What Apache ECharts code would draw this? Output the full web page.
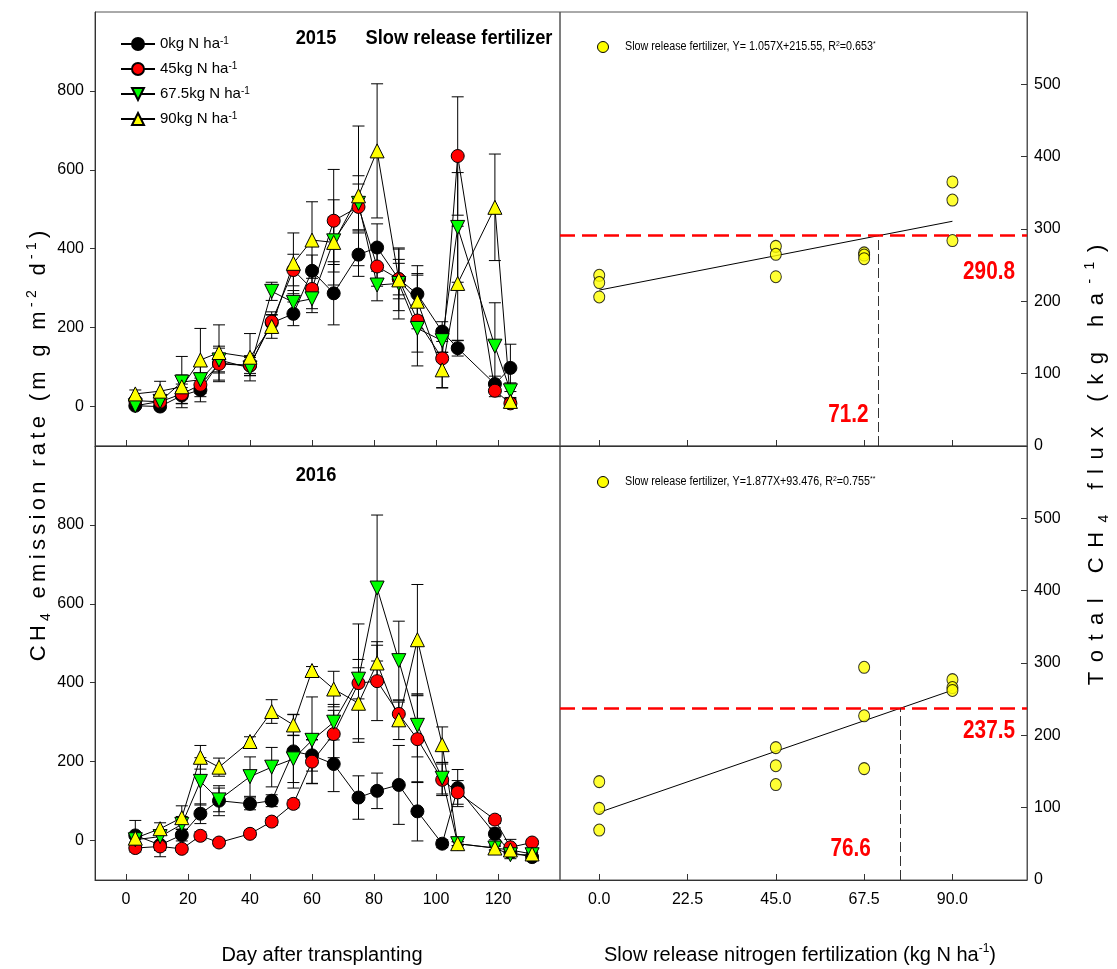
<!DOCTYPE html>
<html>
<head>
<meta charset="utf-8">
<script src="https://cdn.jsdelivr.net/npm/echarts@6/dist/echarts.min.js"></script>
<style>
  html, body { margin: 0; padding: 0; background: #fff; }
  #chart { width: 1117px; height: 969px; }
</style>
</head>
<body>
<div id="chart"></div>
<script>
// ---- Daily CH4 emission rate (mg m-2 d-1), mean and error per N rate ----
const days2015 = [3, 11, 18, 24, 30, 40, 47, 54, 60, 67, 75, 81, 88, 94, 102, 107, 119, 124];
const n0_2015   = [2, 0, 28, 42, 110, 104, 212, 235, 344, 287, 385, 403, 323, 285, 190, 148, 57, 98];
const n45_2015  = [15, 12, 32, 55, 108, 104, 215, 346, 298, 471, 506, 355, 323, 218, 122, 635, 40, 8];
const n675_2015 = [2, 13, 62, 68, 118, 98, 292, 264, 273, 420, 515, 308, 312, 198, 167, 454, 153, 40];
const n90_2015  = [32, 39, 50, 118, 137, 125, 203, 363, 422, 416, 534, 648, 321, 267, 93, 312, 505, 13];
const e0_2015   = [5, 8, 20, 30, 25, 20, 20, 30, 40, 80, 55, 60, 50, 72, 25, 20, 20, 60];
const e45_2015  = [8, 10, 25, 30, 45, 25, 25, 40, 50, 130, 58, 50, 40, 115, 75, 150, 15, 10];
const e675_2015 = [5, 10, 65, 35, 30, 20, 23, 30, 35, 60, 70, 40, 90, 60, 30, 139, 110, 20];
const e90_2015  = [10, 25, 30, 80, 70, 60, 30, 77, 97, 108, 177, 170, 78, 70, 45, 145, 135, 10];

const days2016 = [3, 11, 18, 24, 30, 40, 47, 54, 60, 67, 75, 81, 88, 94, 102, 107, 119, 124, 131];
const n0_2016   = [13, -11, 14, 68, 101, 93, 101, 226, 216, 194, 109, 126, 141, 74, -8, 133, 17, -30, -42];
const n45_2016  = [-19, -15, -21, 12, -5, 17, 48, 93, 200, 270, 399, 404, 321, 257, 154, 122, 53, -17, -5];
const n675_2016 = [2, 10, 41, 150, 103, 162, 186, 207, 254, 300, 409, 640, 456, 292, 158, -8, -19, -36, -36];
const n90_2016  = [6, 30, 58, 211, 186, 251, 327, 293, 431, 384, 348, 450, 306, 509, 243, -8, -19, -24, -34];
const e0_2016   = [38, 30, 15, 25, 38, 15, 15, 93, 40, 70, 55, 45, 100, 75, 10, 47, 15, 10, 5];
const e45_2016  = [10, 10, 8, 10, 8, 8, 10, 10, 55, 60, 150, 100, 30, 110, 40, 30, 10, 20, 5];
const e675_2016 = [10, 15, 20, 60, 30, 50, 50, 60, 110, 45, 50, 185, 100, 80, 40, 5, 5, 10, 5];
const e90_2016  = [10, 15, 30, 30, 23, 12, 30, 27, 10, 45, 90, 45, 50, 140, 45, 5, 5, 10, 5];

// ---- Total CH4 flux (kg ha-1) per plot vs. slow release N rate ----
const nRate      = [0, 0, 0, 45, 45, 45, 67.5, 67.5, 67.5, 90, 90, 90];
const flux2015   = [236, 226, 206, 276, 265, 234, 267, 264, 259, 365, 340, 284];
const flux2016   = [136, 99, 69, 183, 158, 132, 294, 227, 154, 277, 266, 262];

// Linear fits and threshold points
const fit2015 = [1.057, 215.55];   // slope, intercept
const fit2016 = [1.877, 93.476];
const r2_2015 = ['0.653', '*'];
const r2_2016 = ['0.755', '**'];
const threshold2015 = [71.2, 290.8]; // N rate, flux
const threshold2016 = [76.6, 237.5];

// Tick labels
const dayTicks = [0, 20, 40, 60, 80, 100, 120];
const rateTicks = [0, 200, 400, 600, 800];
const nTicks = [0, 22.5, 45, 67.5, 90];
const fluxTicks = [0, 100, 200, 300, 400, 500];
const legendRates = ['0', '45', '67.5', '90'];

const FONT = "'Liberation Sans', Arial, sans-serif";
const AXIS_COLOR = '#333';
const FRAME_COLOR = '#555';

const chart = echarts.init(document.getElementById('chart'), null, { renderer: 'canvas' });

const markerDefs = [
  { name: legendRates[0], symbol: 'circle', rotate: 0, color: '#000000' },
  { name: legendRates[1], symbol: 'circle', rotate: 0, color: '#ff0000' },
  { name: legendRates[2], symbol: 'triangle', rotate: 180, color: '#00ff00' },
  { name: legendRates[3], symbol: 'triangle', rotate: 0, color: '#ffff00' }
];

function errorBars(days, mean, err, axis) {
  return {
    type: 'custom',
    xAxisIndex: axis, yAxisIndex: axis,
    silent: true, z: 1,
    data: days.map((d, i) => [d, mean[i] - err[i], mean[i] + err[i]]),
    encode: { x: 0, y: [1, 2] },
    renderItem(params, api) {
      const x = api.value(0);
      const lo = api.coord([x, api.value(1)]);
      const hi = api.coord([x, api.value(2)]);
      const w = 6;
      const st = { stroke: '#000', lineWidth: 1 };
      return {
        type: 'group',
        children: [
          { type: 'line', shape: { x1: lo[0], y1: lo[1], x2: hi[0], y2: hi[1] }, style: st },
          { type: 'line', shape: { x1: lo[0] - w, y1: lo[1], x2: lo[0] + w, y2: lo[1] }, style: st },
          { type: 'line', shape: { x1: hi[0] - w, y1: hi[1], x2: hi[0] + w, y2: hi[1] }, style: st }
        ]
      };
    }
  };
}

function rateLine(def, days, mean, axis) {
  return {
    type: 'line', name: def.name,
    xAxisIndex: axis, yAxisIndex: axis, z: 3,
    data: days.map((d, i) => [d, mean[i]]),
    symbol: def.symbol, symbolRotate: def.rotate, symbolSize: def.symbol === 'circle' ? 13 : 14,
    showAllSymbol: true,
    lineStyle: { color: '#000', width: 1 },
    itemStyle: { color: def.color, borderColor: '#000', borderWidth: 1 },
    emphasis: { disabled: true },
    animation: false
  };
}

// Bold condensed red text used for the threshold values
function redText(str, x, y, align) {
  return {
    type: 'text', x: x, y: y, scaleX: 0.83,
    style: { text: str, fill: '#ff0000', fontFamily: FONT, fontWeight: 'bold', fontSize: 25,
             align: align, verticalAlign: 'middle' }
  };
}

function fluxPanel(axis, flux, fit, thr, nLabelGap, fLabelDy) {
  const [m, b] = fit;
  const [xN, yF] = thr;
  return [
    {
      type: 'line', name: 'fit' + axis, xAxisIndex: axis, yAxisIndex: axis, z: 2,
      data: [[0, b], [90, b + m * 90]],
      symbol: 'none', lineStyle: { color: '#000', width: 1 },
      markLine: {
        silent: true, symbol: ['none', 'none'], label: { show: false },
        data: [
          { yAxis: yF, lineStyle: { color: '#ff0000', width: 2.5, type: [15, 7] } },
          [
            { coord: [xN, 0], lineStyle: { color: '#333', width: 1, type: [10, 4] } },
            { coord: [xN, yF] }
          ]
        ]
      },
      animation: false
    },
    {
      type: 'scatter', name: 'Slow release fertilizer', xAxisIndex: axis, yAxisIndex: axis, z: 4,
      data: nRate.map((n, i) => [n, flux[i]]),
      symbol: 'circle', symbolSize: [11, 12],
      itemStyle: { color: '#ffff00', borderColor: '#000', borderWidth: 1 },
      emphasis: { disabled: true },
      animation: false
    },
    {
      // value labels for the threshold N rate (on the x axis) and flux (at the right edge)
      type: 'custom', xAxisIndex: axis, yAxisIndex: axis, z: 5, silent: true,
      data: [[xN, 0, 0], [109, yF, 1]],
      renderItem(params, api) {
        const p = api.coord([api.value(0), api.value(1)]);
        if (api.value(2) === 0) {
          return redText(xN.toFixed(1), p[0] - nLabelGap, p[1] - 31, 'right');
        }
        return redText(yF.toFixed(1), p[0] - 12, p[1] + fLabelDy, 'right');
      },
      animation: false
    }
  ];
}

const leftX = (gi, showLabels) => ({
  gridIndex: gi, type: 'value', min: -10, max: 140,
  axisLine: { show: true, onZero: false, lineStyle: { color: AXIS_COLOR, width: 1 } },
  axisTick: { show: true, inside: true, length: 6, customValues: dayTicks, lineStyle: { color: AXIS_COLOR } },
  axisLabel: { show: showLabels, customValues: dayTicks, fontSize: 16, fontFamily: FONT, color: '#000', margin: 12 },
  splitLine: { show: false }
});
const rightX = (gi, showLabels) => ({
  gridIndex: gi, type: 'value', min: -10, max: 109,
  axisLine: { show: true, onZero: false, lineStyle: { color: AXIS_COLOR, width: 1 } },
  axisTick: { show: true, inside: true, length: 6, customValues: nTicks, lineStyle: { color: AXIS_COLOR } },
  axisLabel: { show: showLabels, customValues: nTicks, fontSize: 16, fontFamily: FONT, color: '#000', margin: 12,
               formatter: v => Number(v).toFixed(1) },
  splitLine: { show: false }
});
const leftY = gi => ({
  gridIndex: gi, type: 'value', min: -100, max: 1000, position: 'left',
  axisLine: { show: true, onZero: false, lineStyle: { color: AXIS_COLOR, width: 1 } },
  axisTick: { show: true, inside: false, length: 5, customValues: rateTicks, lineStyle: { color: AXIS_COLOR } },
  axisLabel: { show: true, customValues: rateTicks, fontSize: 16, fontFamily: FONT, color: '#000', margin: 11 },
  splitLine: { show: false }
});
const rightY = gi => ({
  gridIndex: gi, type: 'value', min: 0, max: 600, position: 'right',
  axisLine: { show: true, onZero: false, lineStyle: { color: FRAME_COLOR, width: 1 } },
  axisTick: { show: true, inside: true, length: 6, customValues: fluxTicks, lineStyle: { color: AXIS_COLOR } },
  axisLabel: { show: true, customValues: fluxTicks, fontSize: 16, fontFamily: FONT, color: '#000', margin: 7 },
  splitLine: { show: false }
});

const gridBase = { show: true, borderColor: FRAME_COLOR, borderWidth: 1, containLabel: false, outerBoundsMode: 'none' };

// Rich text with extra letter spacing: parts = [[text, styleName], ...]
function spaced(parts) {
  let out = '';
  parts.forEach(([txt, st]) => {
    for (const ch of txt) out += '{' + st + '|' + ch + '}';
  });
  return out;
}
function spacedRich(size, gap) {
  const pad = [0, gap / 2, 0, gap / 2];
  const small = Math.round(size * 0.62);
  return {
    n:   { fontSize: size, fontFamily: FONT, fill: '#000', color: '#000', lineHeight: 28, padding: pad },
    sub: { fontSize: small, fontFamily: FONT, fill: '#000', color: '#000', lineHeight: 28, verticalAlign: 'bottom', padding: pad },
    sup: { fontSize: small, fontFamily: FONT, fill: '#000', color: '#000', lineHeight: 28, verticalAlign: 'top', padding: pad }
  };
}

function fitLegend(y, fit, r2, spaceAfterEq) {
  const eq = 'Slow release fertilizer, Y=' + (spaceAfterEq ? ' ' : '') + fit[0].toFixed(3) + 'X+' + fit[1] + ', R{s|2}=' + r2[0] + '{s|' + r2[1] + '}';
  return [
    { type: 'circle', x: 603, y: y, shape: { cx: 0, cy: 0, r: 5.5 }, style: { fill: '#ffff00', stroke: '#000', lineWidth: 1 } },
    { type: 'text', x: 625, y: y, scaleX: 0.86, style: {
        text: eq, fill: '#000', fontFamily: FONT, fontSize: 12.5, align: 'left', verticalAlign: 'middle',
        rich: { s: { fontSize: 8, fontFamily: FONT, fill: '#000', verticalAlign: 'top', lineHeight: 15 } } } }
  ];
}

const supRich = {
  sup: { fontSize: 10, fontFamily: FONT, color: '#000', verticalAlign: 'top', lineHeight: 16 }
};

const boldTitle = (str, x, y) => ({
  type: 'text', x: x, y: y, scaleX: 0.87,
  style: { text: str, fontFamily: FONT, fontWeight: 'bold', fontSize: 21, fill: '#000', align: 'center', verticalAlign: 'middle' }
});

const option = {
  backgroundColor: '#fff',
  animation: false,
  grid: [
    Object.assign({ left: 95, top: 12, width: 465, height: 434 }, gridBase),
    Object.assign({ left: 95, top: 446, width: 465, height: 434 }, gridBase),
    Object.assign({ left: 560, top: 12, width: 467, height: 434 }, gridBase),
    Object.assign({ left: 560, top: 446, width: 467, height: 434 }, gridBase)
  ],
  xAxis: [leftX(0, false), leftX(1, true), rightX(2, false), rightX(3, true)],
  yAxis: [leftY(0), leftY(1), rightY(2), rightY(3)],
  legend: [
    {
      orient: 'vertical', left: 120, top: 36, padding: 0,
      itemWidth: 34, itemHeight: 15, itemGap: 9,
      data: legendRates,
      formatter: n => n + 'kg N ha{sup|-1}',
      textStyle: { fontSize: 15, fontFamily: FONT, color: '#000', lineHeight: 16, rich: supRich },
      selectedMode: false
    }
  ],
  graphic: [
    boldTitle('2015', 316, 38),
    boldTitle('Slow release fertilizer', 459, 38),
    boldTitle('2016', 316, 475),
    ...fitLegend(47, fit2015, r2_2015, true),
    ...fitLegend(482, fit2016, r2_2016, false),
    { type: 'text', x: 322, y: 955, style: { text: 'Day after transplanting', fontFamily: FONT, fontSize: 20, fill: '#000', align: 'center', verticalAlign: 'middle' } },
    { type: 'text', x: 800, y: 955, style: {
        text: 'Slow release nitrogen fertilization (kg N ha{sup|-1})', fontFamily: FONT, fontSize: 20, fill: '#000',
        align: 'center', verticalAlign: 'middle',
        rich: { sup: { fontSize: 12, fontFamily: FONT, fill: '#000', verticalAlign: 'top', lineHeight: 24 } } } },
    { type: 'text', x: 39, y: 446, rotation: Math.PI / 2, style: {
        text: spaced([['CH', 'n'], ['4', 'sub'], [' emission rate (m g m', 'n'], ['-2', 'sup'], [' d', 'n'], ['-1', 'sup'], [')', 'n']]),
        fill: '#000', align: 'center', verticalAlign: 'middle', rich: spacedRich(22, 4.3) } },
    { type: 'text', x: 1097, y: 465, rotation: Math.PI / 2, style: {
        text: spaced([['Total CH', 'n'], ['4', 'sub'], [' flux (kg ha', 'n'], ['-1', 'sup'], [')', 'n']]),
        fill: '#000', align: 'center', verticalAlign: 'middle', rich: spacedRich(22, 9.5) } }
  ],
  series: [
    errorBars(days2015, n0_2015, e0_2015, 0),
    errorBars(days2015, n45_2015, e45_2015, 0),
    errorBars(days2015, n675_2015, e675_2015, 0),
    errorBars(days2015, n90_2015, e90_2015, 0),
    rateLine(markerDefs[0], days2015, n0_2015, 0),
    rateLine(markerDefs[1], days2015, n45_2015, 0),
    rateLine(markerDefs[2], days2015, n675_2015, 0),
    rateLine(markerDefs[3], days2015, n90_2015, 0),
    errorBars(days2016, n0_2016, e0_2016, 1),
    errorBars(days2016, n45_2016, e45_2016, 1),
    errorBars(days2016, n675_2016, e675_2016, 1),
    errorBars(days2016, n90_2016, e90_2016, 1),
    rateLine(markerDefs[0], days2016, n0_2016, 1),
    rateLine(markerDefs[1], days2016, n45_2016, 1),
    rateLine(markerDefs[2], days2016, n675_2016, 1),
    rateLine(markerDefs[3], days2016, n90_2016, 1),
    ...fluxPanel(2, flux2015, fit2015, threshold2015, 10, 36),
    ...fluxPanel(3, flux2016, fit2016, threshold2016, 29, 23)
  ]
};

chart.setOption(option);
</script>
</body>
</html>
